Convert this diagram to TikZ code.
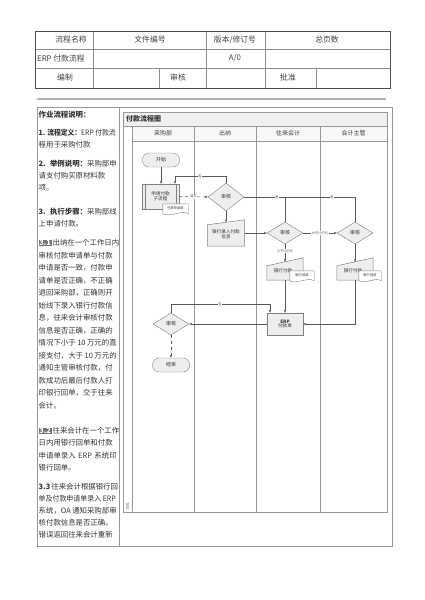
\documentclass[tikz,border=0pt]{standalone}
\usepackage{fontspec}
\usepackage{graphicx}
\setmainfont{Noto Sans CJK SC}
\usetikzlibrary{shapes.geometric,arrows.meta,calc}
\XeTeXlinebreaklocale "zh"
\XeTeXlinebreakskip=0pt plus 3pt
\definecolor{sh}{HTML}{EEEEEE}
\newcommand\fs[1]{\fontsize{#1}{#1}\selectfont}
\newcommand\hlbox[1]{{\setlength{\fboxsep}{0.6pt}\colorbox{black!55}{\color{white}\bfseries #1}}}
\newcommand\jline[1]{\makebox[78pt][s]{#1}}
\newcommand\fitline[1]{\resizebox{77pt}{\height}{#1}}
\newcommand\docshape[1]{\draw[black!50, fill=white, line width=0.4pt] (#1.north west) -- ([yshift=1.5pt]#1.south west) .. controls +(7pt,-4pt) and +(-7pt,4pt) .. ([yshift=1.5pt]#1.south east) -- (#1.north east) -- cycle;}
\newcommand\manshape[2]{\draw[black!50, fill=sh, line width=0.5pt] ([yshift=-#2]#1.north west) -- (#1.north east) -- (#1.south east) -- (#1.south west) -- cycle;}
\pgfdeclarelayer{bg}\pgfdeclarelayer{fg}\pgfsetlayers{bg,main,fg}
\begin{document}
\begin{tikzpicture}[x=1pt,y=-1pt,>={Stealth[length=3pt,width=2.4pt]},
  tbl/.style={draw=black!70, line width=1pt},
  thin/.style={draw=black!45, line width=0.5pt},
  cell/.style={font=\fs{7.8}, text=black!75, inner sep=0pt},
  lt/.style={anchor=west, inner sep=0pt, font=\fs{7.4}, text=black!80},
  lane/.style={draw=black!40, line width=0.7pt},
  hdr/.style={font=\fs{6}, text=black!75, inner sep=0pt},
  dia/.style={diamond, draw=black!50, fill=sh, minimum width=36pt, minimum height=24pt, inner sep=0pt, font=\fs{5}, text=black!80},
  term/.style={rectangle, rounded corners=6.5pt, draw=black!50, fill=sh, minimum width=37pt, minimum height=14pt, inner sep=0pt, font=\fs{5}, text=black!80},
  boxn/.style={rectangle, inner sep=0pt, font=\fs{4.6}, align=center, text=black!80},
  docn/.style={rectangle, inner sep=0pt, font=\fs{3.3}, text=black!80},
  conn/.style={draw=black!65, line width=0.5pt, ->},
  plain/.style={draw=black!65, line width=0.5pt},
  tiny/.style={font=\fs{3.2}, fill=white, inner sep=0.5pt, text=black!70}]
\useasboundingbox (0,0) rectangle (424,600);
% ---- header table
\draw[thin] (35,49) -- (390,49);
\draw[thin] (35,68) -- (390,68);
\draw[thin] (93,31) -- (93,88);
\draw[thin] (206,31) -- (206,88);
\draw[thin] (265,31) -- (265,88);
\draw[thin] (159,68) -- (159,88);
\draw[thin] (316,68) -- (316,88);
\draw[tbl] (35,31) rectangle (390,88);
\node[cell] (a1) at (71,40) {流程名称};
\node[cell] (a2) at (150,40) {文件编号};
\node[cell] (a3) at (235,40) {版本/修订号};
\node[cell] (a4) at (327,40) {总页数};
\node[cell, anchor=west] (b1) at (37,58.5) {ERP 付款流程};
\node[cell] (b3) at (235,58.5) {A/0};
\node[cell] (c1t) at (65,78) {编制};
\node[cell] (c3t) at (178,78) {审核};
\node[cell] (c5t) at (288,78) {批准};
\draw[line width=1.3pt, black!30] (37,99) -- (386,99);
% ---- body frame
\draw[black!40, line width=0.8pt] (37,107) rectangle (392,546);
\draw[black!40, line width=0.8pt] (119,107) -- (119,546);
% ---- left text
\node[lt] (t1) at (38.5,115) {\bfseries 作业流程说明：};
\node[lt] (t2) at (38.5,133) {\fitline{{\bfseries 1. 流程定义：}ERP 付款流}};
\node[lt] (t3) at (38.5,145) {程用于采购付款};
\node[lt] (t4) at (38.5,164) {\jline{{\bfseries 2. 举例说明：}采购部申}};
\node[lt] (t5) at (38.5,176) {\jline{请支付购买原材料款}};
\node[lt] (t6) at (38.5,188) {项。};
\node[lt] (t7) at (38.5,212) {\jline{{\bfseries 3. 执行步骤：}采购部线}};
\node[lt] (t8) at (38.5,224) {上申请付款。};
\node[lt] (t9) at (38.5,243) {\jline{\hlbox{3.1} 出纳在一个工作日内}};
\node[lt] (t10) at (38.5,256) {\jline{审核付款申请单与付款}};
\node[lt] (t11) at (38.5,268) {\jline{申请是否一致，付款申}};
\node[lt] (t12) at (38.5,281) {\jline{请单是否正确，不正确}};
\node[lt] (t13) at (38.5,293) {\jline{退回采购部，正确则开}};
\node[lt] (t14) at (38.5,306) {\jline{始线下录入银行付款信}};
\node[lt] (t15) at (38.5,318) {\jline{息，往来会计审核付款}};
\node[lt] (t16) at (38.5,331) {\jline{信息是否正确，正确的}};
\node[lt] (t17) at (38.5,343) {\jline{情况下小于 10 万元的直}};
\node[lt] (t18) at (38.5,356) {\jline{接支付，大于 10 万元的}};
\node[lt] (t19) at (38.5,368) {\jline{通知主管审核付款，付}};
\node[lt] (t20) at (38.5,381) {\jline{款成功后最后付款人打}};
\node[lt] (t21) at (38.5,393) {\jline{印银行回单，交于往来}};
\node[lt] (t22) at (38.5,406) {会计。};
\node[lt] (t23) at (38.5,431) {\jline{\hlbox{3.2} 往来会计在一个工作}};
\node[lt] (t24) at (38.5,443) {\jline{日内用银行回单和付款}};
\node[lt] (t25) at (38.5,456) {\jline{申请单录入 ERP 系统印}};
\node[lt] (t26) at (38.5,468) {银行回单。};
\node[lt] (t27) at (38.5,487) {\jline{{\bfseries 3.3} 往来会计根据银行回}};
\node[lt] (t28) at (38.5,499) {\fitline{单及付款申请单录入 ERP}};
\node[lt] (t29) at (38.5,511) {\jline{系统，OA 通知采购部审}};
\node[lt] (t30) at (38.5,523) {\jline{核付款信息是否正确。}};
\node[lt] (t31) at (38.5,535) {\jline{错误返回往来会计重新}};
% ---- swimlane frame
\begin{pgfonlayer}{bg}
\fill[black!6] (123,112) rectangle (387,126);
\fill[black!3] (132,126) rectangle (387,141);
\end{pgfonlayer}
\draw[lane] (123,112) rectangle (387,512);
\draw[lane] (123,126) -- (387,126);
\draw[lane] (132,126) -- (132,512);
\draw[lane] (132,141) -- (387,141);
\draw[lane] (194,126) -- (194,512);
\draw[lane] (256,126) -- (256,512);
\draw[lane] (320,126) -- (320,512);
\node[anchor=west, font=\fs{7}\bfseries, text=black!80, inner sep=0pt] (ttl) at (126,119) {付款流程图};
\node[hdr] (h1) at (163,133.5) {采购部};
\node[hdr] (h2) at (225,133.5) {出纳};
\node[hdr] (h3) at (288,133.5) {往来会计};
\node[hdr] (h4) at (353.5,133.5) {会计主管};
\node[rotate=90, font=\fs{3.5}, text=black!60, inner sep=0pt] (ph) at (127.5,506) {阶段};
% ---- nodes
\node[term] (start) at (161,160) {开始};
\node[boxn, draw=black!50, fill=sh, minimum width=37pt, minimum height=25pt] (sub) at (160.5,196.5) {申请付款\\子流程};
\draw[black!50, line width=0.4pt] ([xshift=3pt]sub.north west) -- ([xshift=3pt]sub.south west);
\draw[black!50, line width=0.4pt] ([xshift=-3pt]sub.north east) -- ([xshift=-3pt]sub.south east);
\node[dia, minimum height=28pt] (d1) at (226,197) {审核};
\node[boxn, minimum width=37pt, minimum height=26pt] (in1) at (226,233) {};
\node[boxn] (in1t) at (226,234.5) {银行录入付款\\信息};
\node[dia, minimum height=22pt] (d2) at (285,233) {审核};
\node[dia, minimum height=22pt] (d3) at (355,233) {审核};
\node[boxn, minimum width=36pt, minimum height=22pt] (pay2) at (285,269) {};
\node[boxn] (pay2t) at (283,271) {银行付款};
\node[boxn, minimum width=36pt, minimum height=22pt] (pay3) at (355,269) {};
\node[boxn] (pay3t) at (353,271) {银行付款};
\node[boxn, draw=black!50, fill=sh, minimum width=36pt, minimum height=22pt] (erp) at (285,324) {\bfseries ERP\\付款单};
\node[dia, minimum height=22pt] (d4) at (171,324) {审核};
\node[term] (end) at (171,365) {结束};
\begin{pgfonlayer}{bg}
\manshape{in1}{5pt}
\manshape{pay2}{8pt}
\manshape{pay3}{8pt}
\end{pgfonlayer}
\begin{pgfonlayer}{fg}
\node[docn, minimum width=25pt, minimum height=11pt] (doc1) at (175.5,209.5) {};
\docshape{doc1}
\node[docn] (doc1t) at (175.5,208.5) {付款申请单};
\node[docn, minimum width=24pt, minimum height=11pt] (doc2) at (302,276.5) {};
\docshape{doc2}
\node[docn] (doc2t) at (302,275.5) {银行回单};
\node[docn, minimum width=22pt, minimum height=11pt] (doc3) at (370,276.5) {};
\docshape{doc3}
\node[docn] (doc3t) at (370,275.5) {银行回单};
\end{pgfonlayer}
% ---- connectors
\draw[conn] (start.south) -- (start.south |- sub.north);
\draw[conn, dashed] (sub.east) -- (d1.west) node[tiny, midway] (l1) {提交};
\coordinate (k1) at (175,176);
\draw[conn] (d1.north) |- (k1) -- (k1 |- sub.north);
\node[tiny] (l2) at (200,176) {否};
\draw[conn] (d1.south) -- ([yshift=-2.5pt]in1.north);
\coordinate (k2) at (355,197);
\draw[plain] (d1.east) -- (k2) -- (d3.north);
\draw[plain] (d1.east -| d2.north) -- (d2.north);
\node[tiny] (l3) at (277,197) {是};
\node[tiny] (l4) at (332,197) {是};
\draw[conn] (in1.east) -- (d2.west);
\draw[conn] (d2.east) -- (d3.west) node[tiny, midway] (l5) {大于10万元};
\draw[conn] (d2.south) -- ([yshift=-4pt]pay2.north) node[tiny, pos=0.4] (l6) {小于10万元};
\draw[conn] (d3.south) -- ([yshift=-4pt]pay3.north);
\draw[conn] (pay2.south) -- (erp.north);
\draw[conn] (pay3.south) |- (erp.east);
\draw[conn] (erp.west) -- (d4.east);
\coordinate (k3) at (270,304);
\draw[conn] (d4.north) |- (k3) -- (k3 |- erp.north);
\node[tiny] (l7) at (220,304) {否};
\draw[conn, dashed] (d4.south) -- (end.north);
\end{tikzpicture}
\end{document}
